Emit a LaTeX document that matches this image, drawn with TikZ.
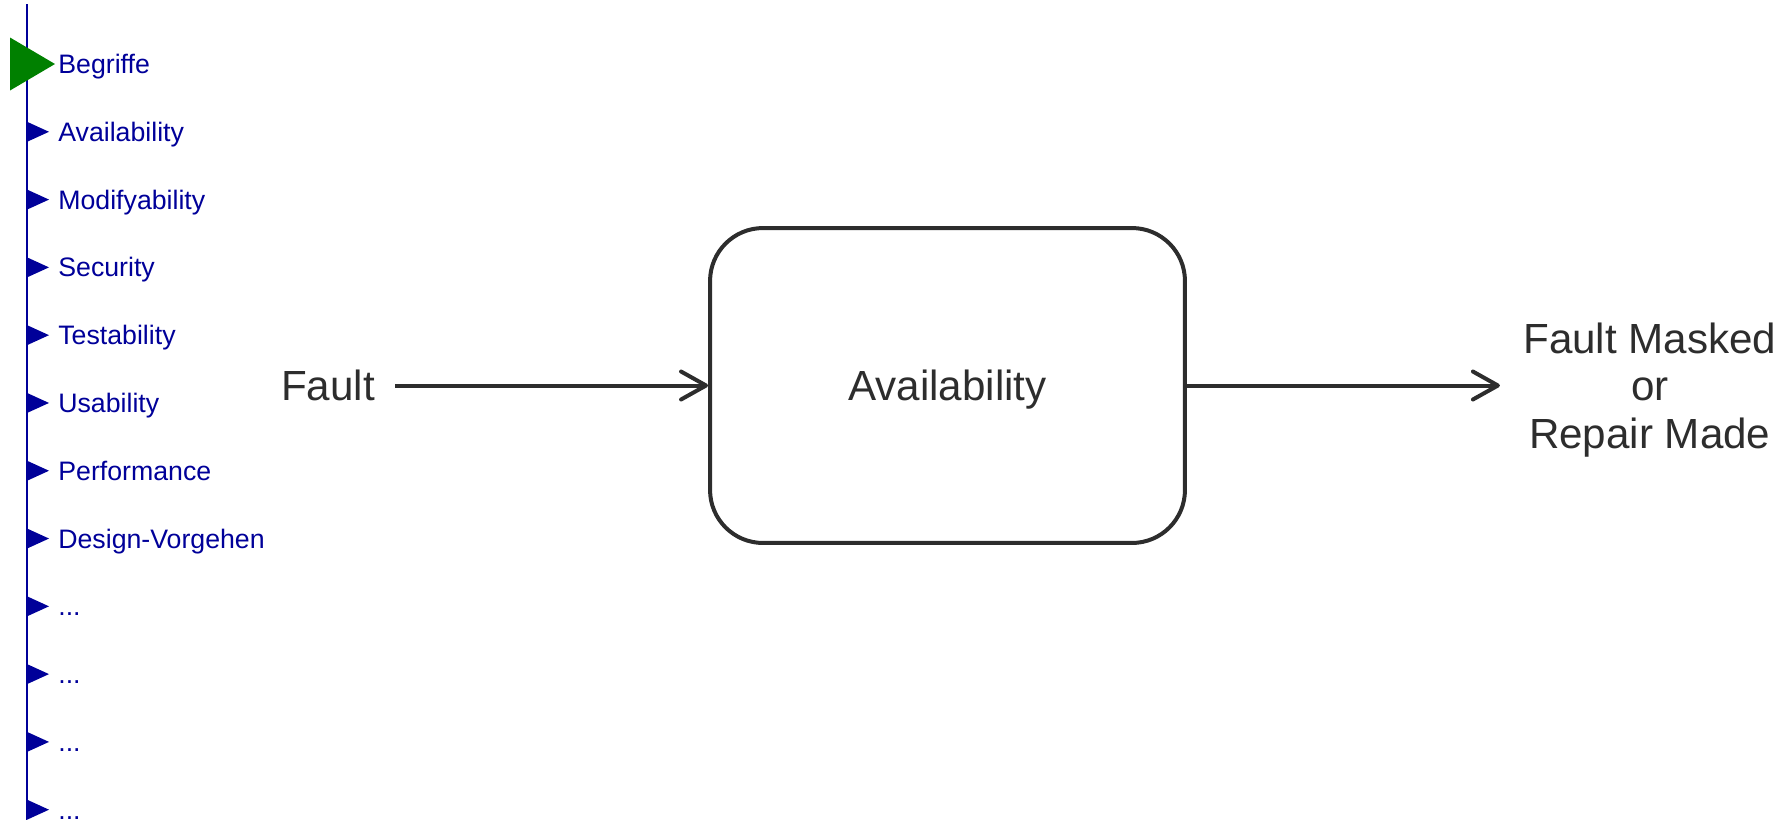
\documentclass[tikz,border=0pt]{standalone}
\usepackage{fontspec}
\setmainfont{Liberation Sans}
\usepackage{xcolor}
\usetikzlibrary{positioning,arrows.meta}
\definecolor{menublue}{RGB}{0,0,153}
\definecolor{markgreen}{RGB}{0,128,0}
\definecolor{linegray}{RGB}{45,45,45}

\begin{document}
\begin{tikzpicture}[x=0.02cm, y=-0.02cm,
				menu/.style={
					text=menublue, align=left, inner sep=0pt,
					text width=4.5cm,
					text height=0.48cm, text depth=0.1cm,
					font=\fontsize{15.2}{17}\selectfont,
				},
				box/.style={
					draw=linegray, line width=0.08cm, rounded corners=1.06cm,
					minimum width=9.5cm, minimum height=6.3cm, text depth=0pt,
					text=linegray, font=\fontsize{24}{27}\selectfont,
				},
				term/.style={
					text=linegray, align=center, inner sep=0.46cm, text depth=0pt,
					font=\fontsize{24}{27}\selectfont,
				},
				flow/.style={
					draw=linegray, line width=0.08cm,
					-{Straight Barb[length=0.5cm,width=0.56cm,round]},
				}
				]
				\useasboundingbox (0,0) rectangle (1787,819);
				
				\coordinate (railtop) at (27,4);
				\coordinate (railbot) at (27,819);
				\draw[menublue, line width=0.04cm] (railtop) -- (railbot);
				
				\node[menu, anchor=west] (m1) at (58,64) {Begriffe};
				\node[menu, below=0.762cm of m1] (m2) {Availability};
				\node[menu, below=0.762cm of m2] (m3) {Modifyability};
				\node[menu, below=0.762cm of m3] (m4) {Security};
				\node[menu, below=0.762cm of m4] (m5) {Testability};
				\node[menu, below=0.762cm of m5] (m6) {Usability};
				\node[menu, below=0.762cm of m6] (m7) {Performance};
				\node[menu, below=0.762cm of m7] (m8) {Design-Vorgehen};
				\node[menu, below=0.762cm of m8] (m9) {...};
				\node[menu, below=0.762cm of m9] (m10) {...};
				\node[menu, below=0.762cm of m10] (m11) {...};
				\node[menu, below=0.762cm of m11] (m12) {...};
				
				\fill[markgreen] (m1.west) ++(-48,-26.5) -- ++(0,53) -- ++(45,-26.5) -- cycle;
				\foreach \i in {2,...,12}
					\fill[menublue] (m\i.west) ++(-32,-10.5) -- ++(0,21) -- ++(23,-10.5) -- cycle;
				
				\node[box] (avail) at (947.5,385.5) {Availability};
				\node[term, inner xsep=0.4cm, left=6.26cm of avail] (fault) {Fault};
				\node[term, right=6.26cm of avail] (result)
				{Fault Masked\\or\\Repair Made};
				
				\draw[flow] (fault.east) -- (avail.west);
				\draw[flow] (avail.east) -- (result.west);
			\end{tikzpicture}
\end{document}
